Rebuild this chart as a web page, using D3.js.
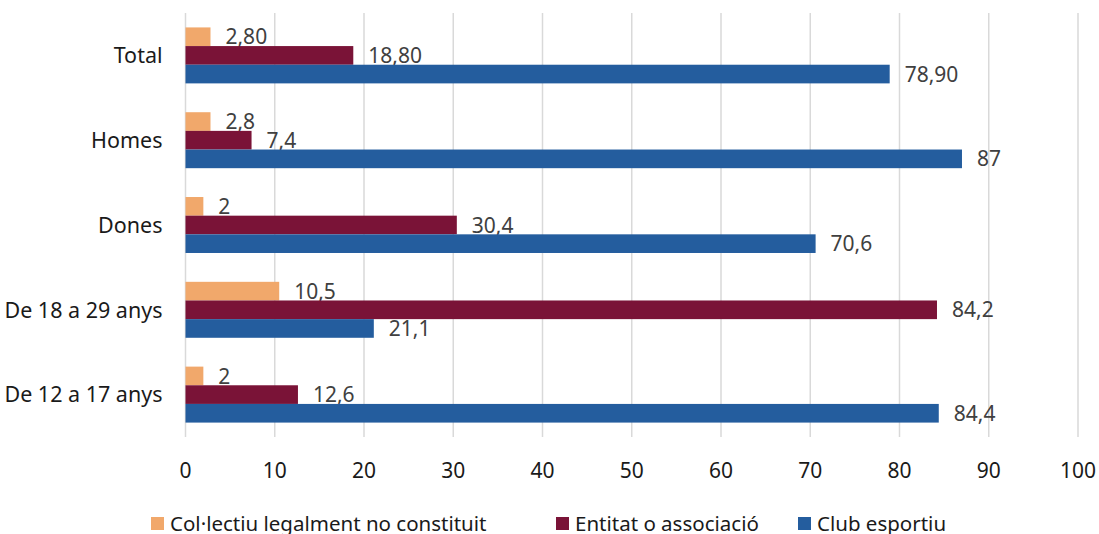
<!DOCTYPE html>
<html>
<head>
<meta charset="utf-8">
<script src="https://cdn.jsdelivr.net/npm/d3@7"></script>
<style>
  body { margin: 0; background: #fff; }
  text { font-family: "Noto Sans", sans-serif; }
</style>
</head>
<body>
<div id="chart"></div>
<script>
(function() {
  var width = 1099,
    height = 534;

  // data, top to bottom as it appears
  var categories = ["Total", "Homes", "Dones", "De 18 a 29 anys", "De 12 a 17 anys"];
  var seriesNames = ["Col·lectiu legalment no constituit", "Entitat o associació", "Club esportiu"];
  var colectiu = [2.8, 2.8, 2, 10.5, 2];
  var entitat = [18.8, 7.4, 30.4, 84.2, 12.6];
  var club = [78.9, 87, 70.6, 21.1, 84.4];
  var colectiuLabels = ["2,80", "2,8", "2", "10,5", "2"];
  var entitatLabels = ["18,80", "7,4", "30,4", "84,2", "12,6"];
  var clubLabels = ["78,90", "87", "70,6", "21,1", "84,4"];
  var xTicks = [0, 10, 20, 30, 40, 50, 60, 70, 80, 90, 100];
  var colors = ["#F1A86B", "#7A1337", "#245D9E"];

  var seriesValues = [colectiu, entitat, club];
  var seriesLabels = [colectiuLabels, entitatLabels, clubLabels];

  var margin = { top: 13, right: 21, bottom: 97, left: 185.5 };

  var svg = d3.select("#chart")
    .append("svg")
    .attr("width", width)
    .attr("height", height)

  var g = svg.append("g")
    .attr("transform", "translate(" + margin.left + "," + margin.top + ")")

  var innerW = 1078 - margin.left,
    innerH = 437 - margin.top;

  var x = d3.scaleLinear().domain([0, 100]).range([0, innerW])

  var y = d3.scaleBand().domain(categories).range([0, innerH]).paddingInner(0.34).paddingOuter(0.17)

  var y1 = d3.scaleBand().domain(d3.range(3)).range([0, y.bandwidth()])

  // gridlines
  g.selectAll(".grid")
    .data(xTicks)
    .enter().append("line")
    .attr("x1", function(d) { return x(d) })
    .attr("x2", function(d) { return x(d) })
    .attr("y1", 0)
    .attr("y2", innerH)
    .attr("stroke", "#d9d9d9")
    .attr("stroke-width", 1.5)

  // build rows for each bar
  var rows = [];
  categories.forEach(function(c, i) {
    seriesValues.forEach(function(vals, s) {
      rows.push({ cat: c, s: s, v: vals[i], label: seriesLabels[s][i] })
    })
  })

  var bars = g.selectAll(".bar")
    .data(rows)
    .enter().append("g")
    .attr("transform", function(d) { return "translate(0," + (y(d.cat) + y1(d.s)) + ")" })

  bars.append("rect")
    .attr("x", 0)
    .attr("y", 0)
    .attr("width", function(d) { return x(d.v) })
    .attr("height", y1.bandwidth())
    .attr("fill", function(d) { return colors[d.s] })

  bars.append("text")
    .attr("x", function(d) { return x(d.v) + 15 })
    .attr("y", y1.bandwidth() / 2)
    .attr("dy", "0.36em")
    .attr("font-size", 21)
    .attr("fill", "#404040")
    .text(function(d) { return d.label })

  // category labels
  g.selectAll(".cat")
    .data(categories)
    .enter().append("text")
    .attr("x", -23)
    .attr("y", function(d) { return y(d) + y.bandwidth() / 2 })
    .attr("dy", "0.36em")
    .attr("text-anchor", "end")
    .attr("font-size", 21.5)
    .attr("fill", "#1a1a1a")
    .text(function(d) { return d })

  // x tick labels
  g.selectAll(".tick-label")
    .data(xTicks)
    .enter().append("text")
    .attr("x", function(d) { return x(d) })
    .attr("y", innerH + 33)
    .attr("dy", "0.36em")
    .attr("text-anchor", "middle")
    .attr("font-size", 21)
    .attr("fill", "#1a1a1a")
    .text(function(d) { return d })

  // legend
  var legendX = [151, 556, 798];
  var legend = svg.selectAll(".legend")
    .data(seriesNames)
    .enter().append("g")
    .attr("transform", function(d, i) { return "translate(" + legendX[i] + ",517)" })

  legend.append("rect")
    .attr("width", 13)
    .attr("height", 13)
    .attr("fill", function(d, i) { return colors[i] })

  legend.append("text")
    .attr("x", 19)
    .attr("y", 6.5)
    .attr("dy", "0.36em")
    .attr("font-size", 20.5)
    .attr("fill", "#1a1a1a")
    .text(function(d) { return d })

})();
</script>
</body>
</html>
